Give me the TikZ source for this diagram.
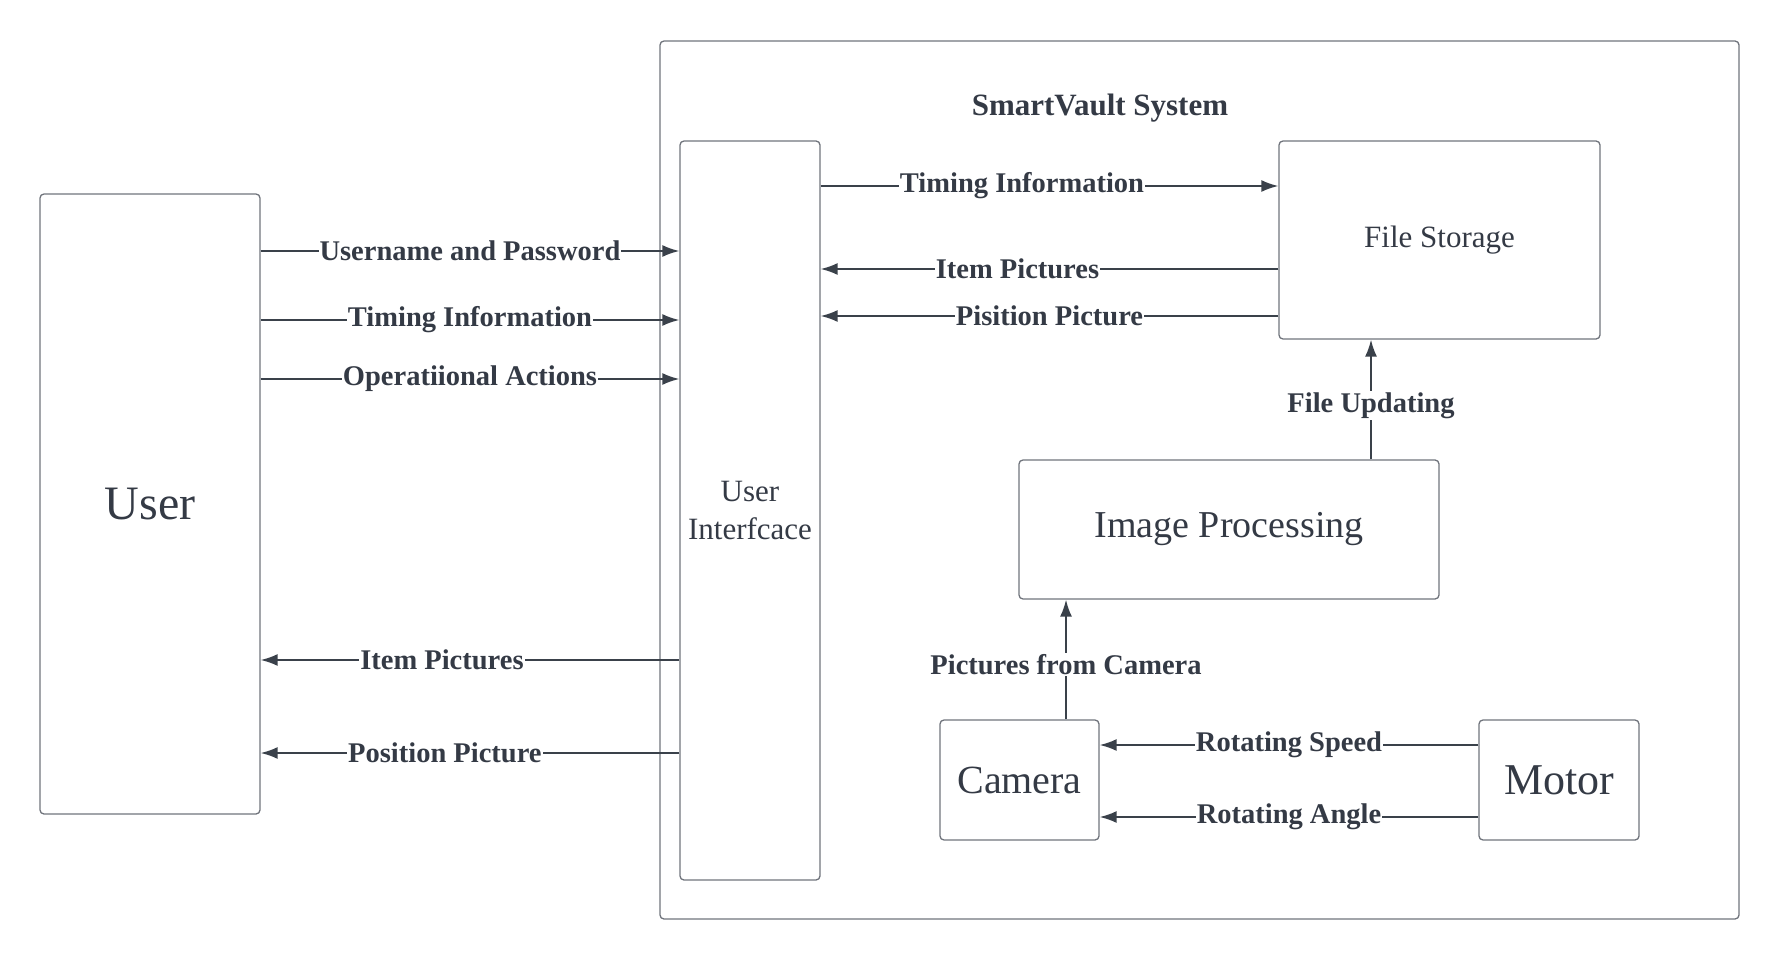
\documentclass[tikz,border=0pt]{standalone}
\usepackage{fontspec}
\setmainfont{Liberation Serif}
\usetikzlibrary{arrows.meta}
\definecolor{ln}{HTML}{3A414A}
\definecolor{bx}{HTML}{70747C}
\definecolor{tx}{HTML}{343A45}
\tikzset{
  box/.style={draw=bx, line width=1.3pt, rounded corners=4pt, inner sep=0pt, text=tx, align=center},
  arr/.style={draw=ln, line width=1.8pt, -{Latex[length=17pt,width=12pt]}},
  lbl/.style={fill=white, inner sep=1pt, text=tx, font=\fontsize{28.5}{32}\selectfont\bfseries}
}
\begin{document}
\begin{tikzpicture}[x=1pt,y=-1pt]
\useasboundingbox (0,0) rectangle (1780,960);
\node[box, minimum width=1079pt, minimum height=878pt] (sys) at (1199.5,480) {};
\node[text=tx, font=\fontsize{31}{35}\selectfont\bfseries] (title) at (1100,108) {SmartVault System};
\node[box, minimum width=220pt, minimum height=620pt, font=\fontsize{48}{52}\selectfont] (user) at (150,504) {User};
\node[box, minimum width=140pt, minimum height=739pt, font=\fontsize{31}{38}\selectfont] (ui) at (750,510.5) {User\\Interfcace};
\node[box, minimum width=321pt, minimum height=198pt, font=\fontsize{31}{34}\selectfont] (fs) at (1439.5,240) {File Storage};
\node[box, minimum width=420pt, minimum height=139pt, font=\fontsize{38}{42}\selectfont] (ip) at (1229,529.5) {Image Processing};
\node[box, minimum width=159pt, minimum height=120pt, font=\fontsize{40}{44}\selectfont] (cam) at (1019.5,780) {Camera};
\node[box, minimum width=160pt, minimum height=120pt, font=\fontsize{44}{48}\selectfont] (motor) at (1559,780) {Motor};

% User -> UI
\draw[arr] (user.east |- 0,251) -- node[lbl]{Username and Password} (ui.west |- 0,251);
\draw[arr] (user.east |- 0,320) -- node[lbl]{Timing Information} (ui.west |- 0,320);
\draw[arr] (user.east |- 0,379) -- node[lbl]{Operatiional Actions} (ui.west |- 0,379);
% UI -> User
\draw[arr] (ui.west |- 0,660) -- node[lbl, pos=0.567]{Item Pictures} (user.east |- 0,660);
\draw[arr] (ui.west |- 0,753) -- node[lbl, pos=0.56]{Position Picture} (user.east |- 0,753);
% UI <-> File Storage
\draw[arr] (ui.east |- 0,186) -- node[lbl, pos=0.44]{Timing Information} (fs.west |- 0,186);
\draw[arr] (fs.west |- 0,269) -- node[lbl, pos=0.57]{Item Pictures} (ui.east |- 0,269);
\draw[arr] (fs.west |- 0,316) -- node[lbl, pos=0.5]{Pisition Picture} (ui.east |- 0,316);
% Image processing -> File storage
\draw[arr] (ip.north -| 1371,0) -- node[lbl, pos=0.45]{File Updating} (fs.south -| 1371,0);
% Camera -> Image processing
\draw[arr] (cam.north -| 1066,0) -- node[lbl, pos=0.46]{Pictures from Camera} (ip.south -| 1066,0);
% Motor -> Camera
\draw[arr] (motor.west |- 0,745) -- node[lbl]{Rotating Speed} (cam.east |- 0,745);
\draw[arr] (motor.west |- 0,817) -- node[lbl]{Rotating Angle} (cam.east |- 0,817);
\end{tikzpicture}
\end{document}
